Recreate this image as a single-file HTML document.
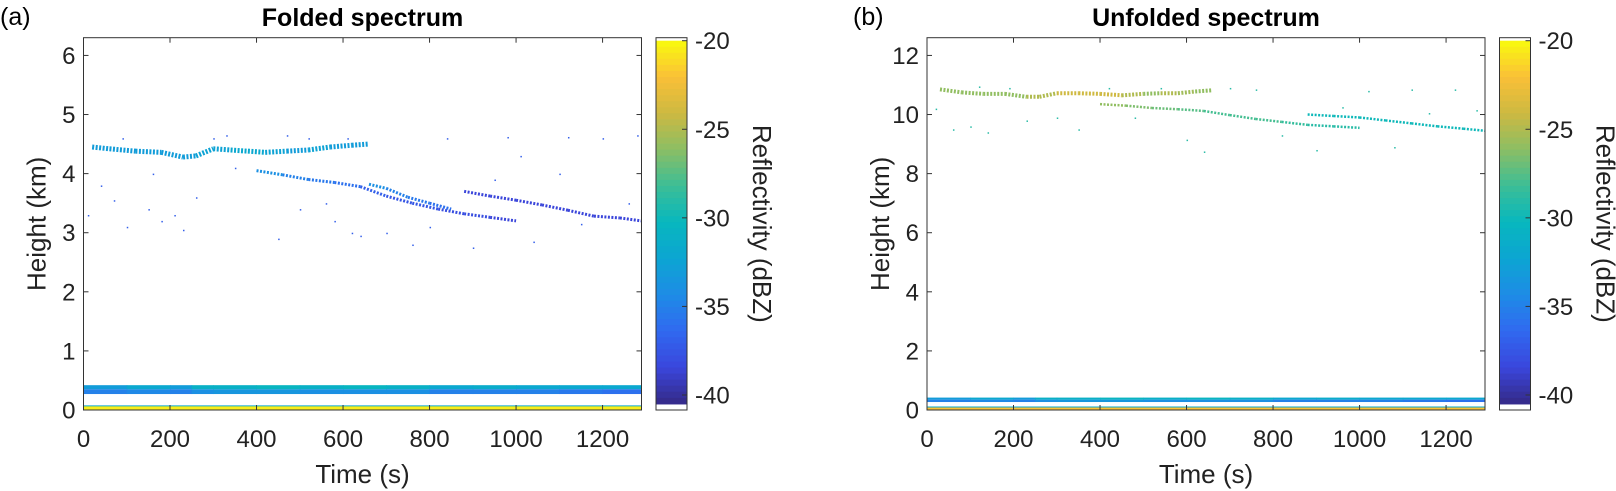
<!DOCTYPE html>
<html><head><meta charset="utf-8"><style>
body{margin:0;background:#fff}
svg{display:block;font-family:"Liberation Sans",sans-serif}
</style></head><body>
<svg id="fig" width="1616" height="491" viewBox="0 0 1616 491"></svg>
<script>
// ---- data ----
const xTicks=[0,200,400,600,800,1000,1200];
const yTicksA=[0,1,2,3,4,5,6];
const yTicksB=[0,2,4,6,8,10,12];
const cbTicks=[-20,-25,-30,-35,-40];
// folded: streak traces [time, height]
const aUpperT=[20,60,120,180,230,260,300,340,380,420,470,520,570,620,660];
const aUpperH=[4.45,4.42,4.38,4.36,4.28,4.3,4.42,4.4,4.38,4.36,4.38,4.4,4.45,4.48,4.5];
const aUpperDb=[-33,-33,-33,-33,-33,-32.5,-32.5,-32,-32,-32.5,-33,-32.5,-33,-33,-33.5];
const aLowT=[400,460,520,580,640,700,760,820,880,940,1000];
const aLowH=[4.05,3.98,3.9,3.85,3.78,3.62,3.5,3.4,3.32,3.26,3.2];
const aLowDb=[-34,-35,-35.5,-36,-37,-37.5,-37.5,-38,-38,-38.5,-38.5];
const aLoopT=[660,700,750,800,850];
const aLoopH=[3.82,3.75,3.6,3.5,3.4];
const aFarT=[880,940,1000,1060,1120,1180,1240,1290];
const aFarH=[3.7,3.62,3.55,3.47,3.38,3.28,3.25,3.2];
// unfolded
const bUpperT=[30,80,130,180,230,260,300,350,400,450,500,540,580,620,660];
const bUpperH=[10.85,10.75,10.7,10.7,10.6,10.6,10.72,10.72,10.7,10.65,10.7,10.72,10.72,10.78,10.82];
const bUpperDb=[-26,-26,-26,-26,-25,-25,-24,-24,-24,-25,-26,-25,-25.5,-26,-26.5];
const bLowT=[400,460,520,580,640,700,760,820,880,940,1000];
const bLowH=[10.35,10.3,10.22,10.18,10.12,9.98,9.85,9.75,9.65,9.6,9.55];
const bLowDb=[-26,-26.5,-27,-27.5,-28,-28,-28,-28.5,-29,-29,-29.5];
const bFarT=[880,940,1000,1060,1120,1180,1240,1290];
const bFarH=[10.0,9.95,9.9,9.8,9.7,9.6,9.52,9.45];
// low-level band
const bandT=[0,100,200,250,300,400,500,600,700,800,900,1000,1100,1200,1290];
const bandDbA=[-33,-32,-33,-31,-31,-30.5,-31,-30.5,-31,-32,-31.5,-32,-32,-32,-31.5];
const bandDbB=[-35,-34.5,-35,-34,-33.5,-33.5,-34,-34,-34,-35,-35,-35,-35.5,-36,-35];
// scattered points [time,height]
const aDotsT=[10,40,70,100,150,180,210,230,260,300,330,350,450,470,520,560,580,610,640,700,760,800,840,900,950,980,1040,1100,1150,1200,1260,1280,160,90,500,1010,1120,620];
const aDotsH=[3.3,3.8,3.55,3.1,3.4,3.2,3.3,3.05,3.6,4.6,4.65,4.1,2.9,4.65,4.6,3.5,3.2,4.6,2.95,3.0,2.8,3.1,4.6,2.75,3.9,4.62,2.85,4.0,3.15,4.6,3.5,4.65,4.0,4.6,3.4,4.3,4.62,3.0];
const bDotsT=[20,60,100,140,190,230,300,350,420,480,600,640,700,760,820,900,960,1020,1080,1120,1160,1220,1270,120,540];
const bDotsH=[10.2,9.5,9.6,9.4,10.9,9.8,9.9,9.5,10.9,9.9,9.15,8.75,10.9,10.85,9.3,8.8,10.25,10.8,8.9,10.85,10.05,10.85,10.15,10.95,10.9];

// ---- helpers ----
const NS='http://www.w3.org/2000/svg';
const svg=document.getElementById('fig');
function mk(tag,attrs,parent){const e=document.createElementNS(NS,tag);for(const k in attrs)e.setAttribute(k,attrs[k]);(parent||svg).appendChild(e);return e;}
const stops=[[53,42,135],[58,70,220],[48,105,240],[30,140,230],[12,165,210],[8,183,190],[60,190,150],[140,190,100],[205,185,65],[250,192,55],[249,251,14]];
function parula(t){t=Math.max(0,Math.min(1,t));const p=t*(stops.length-1);const i=Math.min(stops.length-2,Math.floor(p));const f=p-i;const c=stops[i].map((v,k)=>Math.round(v+(stops[i+1][k]-v)*f));return `rgb(${c[0]},${c[1]},${c[2]})`;}
const CMIN=-40.5,CMAX=-20;
function col(db){return parula((db-CMIN)/(CMAX-CMIN));}

function panel(o){
  const L=o.x0,R=o.x0+558,T=37.7,B=410;
  const X=v=>L+(v-0)/(1290)*(R-L);
  const Y=v=>B-(v/o.ymax)*(B-T);
  const g=mk('g',{});
  
  
  const clipId='clip'+o.name;
  const cp=mk('clipPath',{id:clipId},g);mk('rect',{x:L,y:T,width:R-L,height:B-T},cp);
  const d=mk('g',{'clip-path':`url(#${clipId})`},g);
  for(let i=0;i<bandT.length-1;i++){
    const r1=mk('rect',{x:X(bandT[i]),y:Y(o.bandTop),width:X(bandT[i+1])-X(bandT[i])+0.5,height:Y(o.bandMid)-Y(o.bandTop),fill:col(o.bandA[i])},d);
    
    const r2=mk('rect',{x:X(bandT[i]),y:Y(o.bandMid),width:X(bandT[i+1])-X(bandT[i])+0.5,height:Y(o.bandBot)-Y(o.bandMid),fill:col(o.bandB[i])},d);
    
  }
  const gl=mk('rect',{x:L,y:Y(o.groundTop),width:R-L,height:B-Y(o.groundTop),fill:col(o.groundDb)},d);
  
  mk('line',{x1:L,x2:R,y1:Y(o.groundTop),y2:Y(o.groundTop),stroke:col(-32),'stroke-width':1},d);
  o.streaks.forEach(s=>{
    for(let i=0;i<s.t.length-1;i++){
      const ln=mk('line',{x1:X(s.t[i]),y1:Y(s.h[i]),x2:X(s.t[i+1]),y2:Y(s.h[i+1]),stroke:col(s.db[i]),'stroke-width':s.w,'stroke-dasharray':'2 1.5','stroke-linecap':'butt'},d);
      
    }
  });
  o.dotsT.forEach((t,i)=>{
    const r=mk('rect',{x:X(t),y:Y(o.dotsH[i]),width:1.5,height:1.5,fill:col(o.dotDb)},d);
    
  });
  mk('rect',{x:L,y:T,width:R-L,height:B-T,fill:'none',stroke:'#333','stroke-width':1},g);
  xTicks.forEach(v=>{
    mk('line',{x1:X(v),x2:X(v),y1:B,y2:B-5,stroke:'#333'},g);
    mk('line',{x1:X(v),x2:X(v),y1:T,y2:T+5,stroke:'#333'},g);
    const t=mk('text',{x:X(v),y:447,'font-size':24,'text-anchor':'middle',fill:'#222'},g);t.textContent=v;
    
  });
  o.yTicks.forEach(v=>{
    mk('line',{x1:L,x2:L+5,y1:Y(v),y2:Y(v),stroke:'#333'},g);
    mk('line',{x1:R,x2:R-5,y1:Y(v),y2:Y(v),stroke:'#333'},g);
    const t=mk('text',{x:L-8,y:Y(v)+8.5,'font-size':24,'text-anchor':'end',fill:'#222'},g);t.textContent=v;
    
  });
  const xt=mk('text',{x:(L+R)/2,y:483,'font-size':26,'text-anchor':'middle',fill:'#222'},g);xt.textContent='Time (s)';
  
  const yt=mk('text',{x:0,y:0,'font-size':26,'text-anchor':'middle',fill:'#222',transform:`translate(${L-38},${(T+B)/2}) rotate(-90)`},g);yt.textContent='Height (km)';
  
  const tt=mk('text',{x:(L+R)/2,y:26,'font-size':25,'font-weight':'bold','text-anchor':'middle',fill:'#000'},g);tt.textContent=o.title;
  
  const pl=mk('text',{x:o.lx,y:25,'font-size':25,fill:'#000'},g);pl.textContent=o.letter;
  
  const cx=R+14.5,cw=31;
  const cb=mk('g',{},g);
  
  const CB=v=>40.7+(-20-v)*(395-40.7)/20;
  const N=60;
  for(let i=0;i<N;i++){
    const v1=CMAX-(CMAX-CMIN)*i/N,v2=CMAX-(CMAX-CMIN)*(i+1)/N;
    mk('rect',{x:cx,y:Math.max(T,CB(v1)),width:cw,height:CB(v2)-Math.max(T,CB(v1))+0.6,fill:col((v1+v2)/2)},cb);
  }
  mk('rect',{x:cx,y:T,width:cw,height:B-T,fill:'none',stroke:'#333'},cb);
  cbTicks.forEach(v=>{
    mk('line',{x1:cx+cw,x2:cx+cw-5,y1:CB(v),y2:CB(v),stroke:'#333'},cb);
    const t=mk('text',{x:cx+cw+8,y:CB(v)+8.5,'font-size':24,fill:'#222'},cb);t.textContent=v;
    
  });
  const ct=mk('text',{x:0,y:0,'font-size':26,'text-anchor':'middle',fill:'#222',transform:`translate(${cx+cw+66},${(T+B)/2}) rotate(90)`},cb);ct.textContent='Reflectivity (dBZ)';
  
}

panel({name:'folded-panel',x0:83.5,ymax:6.3,yTicks:yTicksA,title:'Folded spectrum',letter:'(a)',lx:0,
  bandTop:0.42,bandMid:0.35,bandBot:0.27,bandA:bandDbA,bandB:bandDbB,groundTop:0.07,groundDb:-20.5,
  streaks:[{t:aUpperT,h:aUpperH,db:aUpperDb,w:5},{t:aLowT,h:aLowH,db:aLowDb,w:3},{t:aLoopT,h:aLoopH,db:aLowDb,w:3},{t:aFarT,h:aFarH,db:aLowDb.map(()=>-38.5),w:3}],
  dotsT:aDotsT,dotsH:aDotsH,dotDb:-37});
panel({name:'unfolded-panel',x0:927,ymax:12.6,yTicks:yTicksB,title:'Unfolded spectrum',letter:'(b)',lx:853,
  bandTop:0.42,bandMid:0.35,bandBot:0.27,bandA:bandDbA,bandB:bandDbB,groundTop:0.1,groundDb:-22,
  streaks:[{t:bUpperT,h:bUpperH,db:bUpperDb,w:4},{t:bLowT,h:bLowH,db:bLowDb,w:2.5},{t:bFarT,h:bFarH,db:bLowDb.map(()=>-30),w:2.5}],
  dotsT:bDotsT,dotsH:bDotsH,dotDb:-29});
</script>
</body></html>
